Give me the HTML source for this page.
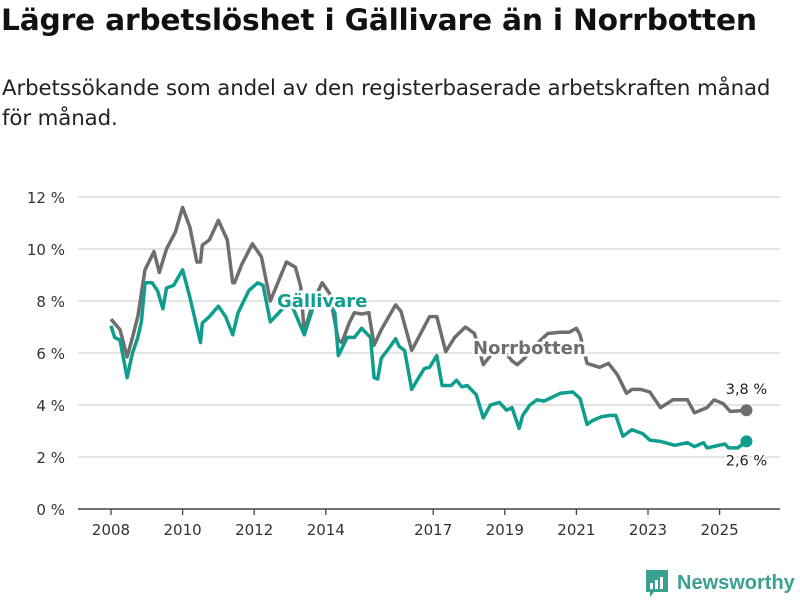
<!DOCTYPE html>
<html><head><meta charset="utf-8"><style>
body{margin:0;width:800px;height:600px;background:#fff;font-family:"DejaVu Sans","Liberation Sans",sans-serif;overflow:hidden;position:relative}
h1{position:absolute;left:1px;top:3px;margin:0;font-size:29.7px;font-weight:bold;color:#111;letter-spacing:-0.2px;white-space:nowrap}
.sub{position:absolute;left:2px;top:74px;margin:0;font-size:21.3px;color:#222;line-height:30px;width:792px;letter-spacing:-0.1px}
svg{position:absolute;left:0;top:0;font-family:"DejaVu Sans","Liberation Sans",sans-serif}
</style></head><body>
<h1>Lägre arbetslöshet i Gällivare än i Norrbotten</h1>
<p class="sub">Arbetssökande som andel av den registerbaserade arbetskraften månad för månad.</p>
<svg id="chart" width="800" height="600"></svg>
<script>
const yTicks=[0,2,4,6,8,10,12];
const xTicks=[2008,2010,2012,2014,2017,2019,2021,2023,2025];
const norrDates=[2008.0,2008.25,2008.45,2008.6,2008.75,2008.95,2009.2,2009.35,2009.55,2009.8,2010.0,2010.2,2010.4,2010.5,2010.55,2010.75,2011.0,2011.25,2011.4,2011.45,2011.65,2011.95,2012.2,2012.45,2012.9,2013.15,2013.3,2013.4,2013.65,2013.9,2014.1,2014.35,2014.45,2014.65,2014.8,2015.0,2015.2,2015.35,2015.55,2015.95,2016.1,2016.4,2016.9,2017.1,2017.35,2017.6,2017.9,2018.15,2018.4,2018.6,2018.85,2019.2,2019.35,2019.55,2019.85,2020.2,2020.55,2020.8,2021.0,2021.1,2021.3,2021.65,2021.9,2022.15,2022.4,2022.55,2022.8,2023.05,2023.35,2023.7,2024.1,2024.3,2024.65,2024.85,2025.1,2025.3,2025.75];
const norrValues=[7.3,6.9,5.85,6.6,7.4,9.2,9.9,9.1,10.0,10.65,11.6,10.85,9.5,9.5,10.15,10.35,11.1,10.35,8.7,8.7,9.4,10.2,9.7,8.0,9.5,9.3,8.55,6.8,8.0,8.7,8.3,6.5,6.4,7.15,7.55,7.5,7.55,6.3,6.9,7.85,7.6,6.1,7.4,7.4,6.05,6.6,7.0,6.75,5.55,5.9,6.3,5.7,5.55,5.8,6.3,6.75,6.8,6.8,6.95,6.7,5.6,5.45,5.6,5.15,4.45,4.6,4.6,4.5,3.9,4.2,4.2,3.7,3.9,4.2,4.05,3.75,3.8];
const galDates=[2008.0,2008.1,2008.25,2008.45,2008.6,2008.75,2008.85,2008.95,2009.15,2009.3,2009.45,2009.55,2009.75,2010.0,2010.2,2010.5,2010.55,2010.75,2011.0,2011.2,2011.4,2011.55,2011.85,2012.1,2012.25,2012.45,2013.0,2013.4,2013.7,2014.0,2014.25,2014.35,2014.6,2014.8,2015.0,2015.25,2015.35,2015.45,2015.55,2015.8,2015.95,2016.05,2016.2,2016.4,2016.55,2016.75,2016.9,2017.1,2017.25,2017.5,2017.65,2017.8,2017.95,2018.2,2018.4,2018.6,2018.85,2019.05,2019.2,2019.4,2019.5,2019.7,2019.9,2020.1,2020.25,2020.55,2020.9,2021.1,2021.3,2021.45,2021.7,2021.95,2022.1,2022.3,2022.55,2022.85,2023.05,2023.35,2023.75,2024.1,2024.3,2024.55,2024.65,2025.15,2025.25,2025.5,2025.75];
const galValues=[7.05,6.6,6.5,5.05,6.0,6.6,7.2,8.7,8.7,8.4,7.7,8.5,8.6,9.2,8.15,6.4,7.15,7.4,7.8,7.4,6.7,7.55,8.4,8.7,8.6,7.2,8.0,6.7,8.0,8.1,7.55,5.9,6.6,6.6,6.95,6.6,5.05,5.0,5.8,6.25,6.55,6.25,6.1,4.6,4.95,5.4,5.45,5.9,4.75,4.75,4.95,4.7,4.75,4.4,3.5,4.0,4.1,3.8,3.9,3.1,3.6,4.0,4.2,4.15,4.25,4.45,4.5,4.25,3.25,3.4,3.55,3.6,3.6,2.8,3.05,2.9,2.65,2.6,2.45,2.55,2.4,2.55,2.35,2.5,2.35,2.35,2.6];
const NS="http://www.w3.org/2000/svg";
const svg=document.getElementById('chart');
const X=t=>111+(t-2008)*35.8;
const Y=v=>509-v*26;
function mk(tag,attrs,parent){const e=document.createElementNS(NS,tag);for(const k in attrs)e.setAttribute(k,attrs[k]);(parent||svg).appendChild(e);return e;}
yTicks.forEach(v=>{
  if(v>0){const g=mk('line',{x1:78,x2:780,y1:Y(v),y2:Y(v),stroke:'#dcdcdc','stroke-width':1.5});
  
  }
  const t=mk('text',{x:65,y:Y(v)+6,'text-anchor':'end','font-size':15,fill:'#333'});
  t.textContent=v+' %';
  
  
});
const ax=mk('line',{x1:78,x2:780,y1:509,y2:509,stroke:'#444','stroke-width':1.5});


xTicks.forEach(yr=>{
  const tk=mk('line',{x1:X(yr),x2:X(yr),y1:509,y2:515,stroke:'#444','stroke-width':1.3});
  
  
  const t=mk('text',{x:X(yr),y:535,'text-anchor':'middle','font-size':15,fill:'#333'});
  t.textContent=yr;
  
  
});
function path(d,v){return d.map((t,i)=>(i?'L':'M')+X(t).toFixed(1)+','+Y(v[i]).toFixed(1)).join('');}
const ln=mk('path',{d:path(norrDates,norrValues),fill:'none',stroke:'#6e6e6e','stroke-width':3.5,'stroke-linejoin':'round'});


const lg=mk('path',{d:path(galDates,galValues),fill:'none',stroke:'#0f9e8e','stroke-width':3.5,'stroke-linejoin':'round'});


const nl=norrDates.length-1, gl=galDates.length-1;
const d1=mk('circle',{cx:X(norrDates[nl]),cy:Y(norrValues[nl]),r:6,fill:'#6e6e6e'});


const d2=mk('circle',{cx:X(galDates[gl]),cy:Y(galValues[gl]),r:6,fill:'#0f9e8e'});


const v1=mk('text',{x:X(norrDates[nl]),y:Y(norrValues[nl])-16,'text-anchor':'middle','font-size':14.5,fill:'#222',stroke:'#fff','stroke-width':4,'paint-order':'stroke'});
v1.textContent=String(norrValues[nl]).replace('.',',')+' %';


const v2=mk('text',{x:X(galDates[gl]),y:Y(galValues[gl])+24,'text-anchor':'middle','font-size':14.5,fill:'#222',stroke:'#fff','stroke-width':4,'paint-order':'stroke'});
v2.textContent=String(galValues[gl]).replace('.',',')+' %';


const s1=mk('text',{x:277,y:307,'font-size':18,'font-weight':'bold',fill:'#0f9e8e',stroke:'#fff','stroke-width':5,'paint-order':'stroke'});
s1.textContent='Gällivare';


const s2=mk('text',{x:473,y:354,'font-size':18,'font-weight':'bold',fill:'#6e6e6e',stroke:'#fff','stroke-width':5,'paint-order':'stroke'});
s2.textContent='Norrbotten';


const lgG=mk('g',{});


mk('path',{d:'M646,570 h22 v22 h-14 l-4,5 v-5 h-4 z',fill:'#3aa091'},lgG);
mk('rect',{x:650,y:583,width:3,height:6,fill:'#fff'},lgG);
mk('rect',{x:655,y:580,width:3,height:9,fill:'#fff'},lgG);
mk('rect',{x:660,y:577,width:3,height:12,fill:'#fff'},lgG);
const lt=mk('text',{x:677,y:589,'font-size':20,'font-weight':'bold',fill:'#3aa091',style:'font-family:"Liberation Sans",sans-serif'},lgG);
lt.textContent='Newsworthy';
</script>
</body></html>
